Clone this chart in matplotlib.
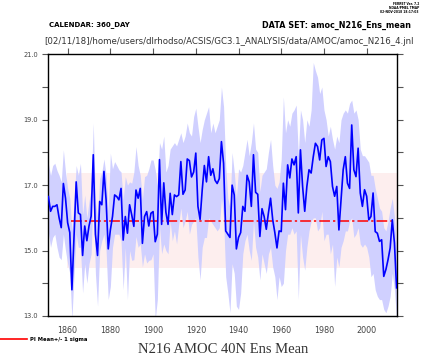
import numpy as np
import matplotlib
matplotlib.use('Agg')
import matplotlib.pyplot as plt
from matplotlib.lines import Line2D

# annual ensemble mean AMOC at 40N (Sv), 1851-2014
years = np.arange(1851, 2015)

amoc_mean = [
    16.65, 16.20, 16.35, 16.35, 16.40, 16.00, 15.70, 17.05, 16.60, 15.85,
    15.55, 13.80, 15.45, 17.10, 16.15, 16.10, 14.85, 15.75, 15.30, 15.75,
    16.05, 17.93, 15.50, 14.85, 16.50, 16.40, 17.42, 16.55, 15.05,
    15.63, 16.04, 16.70, 16.65, 16.55, 16.90, 15.32, 16.04, 15.53, 16.40,
    16.09, 15.74, 16.85, 16.60, 16.90, 15.22, 16.04, 16.19, 15.75, 16.14,
    16.19, 15.27, 15.50, 17.78, 15.80, 17.07, 16.17,
    15.80, 16.75, 16.10, 16.70, 16.65, 16.70, 17.72, 16.72, 16.85, 17.80,
    17.75, 17.25, 17.40, 17.98, 16.35, 15.95, 16.85, 17.60, 17.10, 17.87,
    17.30, 17.50, 17.15, 17.05, 17.20, 18.33, 17.67,
    15.60, 15.50, 15.40, 17.00, 16.70, 15.05, 15.40, 15.55, 16.35, 16.20,
    17.30, 17.10, 16.35, 17.93, 16.78, 16.72, 15.43, 16.28, 16.04, 15.65,
    16.15, 16.60, 15.95, 15.55, 15.08, 15.60, 15.58,
    17.06, 16.25, 17.62, 17.22, 17.80, 17.62, 17.87, 16.15, 18.08, 16.96,
    16.20, 16.96, 17.47, 17.37, 17.87, 18.28, 18.18, 17.77, 18.38, 18.43,
    17.57, 17.87, 17.72, 16.96, 16.66, 16.96, 15.63, 16.55, 17.47, 17.87,
    17.06, 16.90, 18.84, 17.47, 17.26, 18.13, 16.76, 16.35, 16.86, 16.66,
    15.94, 16.04, 16.76, 15.58, 15.53, 15.28, 15.33, 14.21, 14.42, 14.72,
    15.08, 15.94, 15.23, 13.86,
]

# ensemble spread (upper / lower edge of the shading)
ens_upper = [
    17.65, 17.30, 17.60, 17.67, 17.45, 17.30, 17.10, 18.08, 17.40, 16.90,
    16.60, 15.60, 16.50, 17.60, 17.30, 17.67, 16.10, 16.70, 16.00, 16.50,
    16.90, 18.90, 16.50, 16.00, 17.20, 17.40, 17.80, 17.30, 16.20,
    17.98, 17.50, 17.72, 17.60, 17.47, 17.40, 16.55, 17.26, 17.00, 17.10,
    17.06, 17.40, 18.18, 17.60, 17.30, 16.55, 17.26, 17.30, 17.50, 17.77,
    17.77, 17.47, 17.00, 18.30, 18.10, 18.50, 17.40,
    17.60, 18.10, 18.20, 18.30, 18.20, 18.40, 18.60, 18.30, 18.50, 18.90,
    18.60, 18.50, 19.10, 19.35, 18.80, 18.30, 18.70, 19.00, 19.20, 19.40,
    18.60, 18.90, 18.60, 18.80, 19.00, 20.00, 19.40,
    17.60, 16.60, 16.30, 18.00, 17.40, 16.60, 17.50, 17.40, 17.60, 18.00,
    18.40, 17.90, 18.30, 18.90, 18.10, 18.00, 16.80, 17.30, 17.40, 17.50,
    18.00, 18.40, 17.60, 17.00, 16.90, 17.10, 17.80,
    19.70, 18.60, 19.00, 18.80, 19.20, 19.30, 19.45, 17.90, 19.30, 19.00,
    18.30, 19.00, 18.80, 19.30, 20.75, 20.50, 20.30, 19.80, 20.00, 19.30,
    19.00, 18.50, 18.80, 18.40, 18.10, 18.50, 18.30, 19.00, 19.20, 19.30,
    19.20, 19.50, 19.60, 19.20, 19.30, 19.00, 18.10, 17.90, 17.90, 17.80,
    17.70, 17.30, 17.30, 16.90, 16.60, 16.30, 16.20, 15.70, 15.60, 15.90,
    16.30, 16.60, 16.00, 15.00,
]

ens_lower = [
    15.55, 15.10, 15.40, 15.50, 15.10, 14.80, 14.72, 15.50, 15.00, 14.60,
    14.30, 12.90, 14.30, 15.50, 15.10, 15.10, 13.70, 14.60, 14.00, 14.60,
    14.90, 16.90, 14.30, 13.30, 15.00, 15.30, 15.50, 15.00, 13.50,
    13.90, 15.10, 15.50, 15.50, 15.50, 15.30, 13.80, 15.10, 13.50, 15.00,
    14.70, 14.72, 15.43, 15.10, 15.20, 14.50, 14.90, 14.62, 14.70, 14.72,
    14.90, 12.90, 13.50, 15.74, 14.90, 15.20, 15.00,
    14.90, 15.90, 15.30, 15.60, 15.20, 15.80, 16.30, 15.70, 15.90, 16.20,
    15.50, 15.80, 15.90, 16.00, 14.80, 14.10, 15.10, 15.40, 15.40, 16.00,
    15.90, 15.80, 15.70, 15.60, 15.70, 16.60, 16.00,
    14.20, 13.70, 13.10, 14.60, 14.30, 13.30, 13.20, 13.70, 14.90, 15.30,
    15.50, 15.00, 14.70, 15.90, 15.10, 14.80, 14.10, 14.90, 14.60, 14.30,
    14.90, 15.10, 14.50, 14.20, 13.50, 14.20, 13.90,
    14.00, 15.00, 15.50, 15.50, 15.70, 15.50, 15.60, 13.50, 15.50, 14.80,
    14.40, 15.10, 15.60, 15.90, 16.00, 16.00, 15.60, 15.70, 16.20, 15.30,
    15.50, 15.50, 14.90, 15.20, 13.90, 14.80, 14.50, 15.10, 15.30, 15.60,
    15.60, 15.90, 16.00, 15.40, 15.50, 15.70, 15.20, 15.10, 15.20, 15.10,
    14.80, 14.20, 14.30, 13.80, 13.60, 13.50, 13.50, 13.20, 13.10, 13.30,
    13.60, 14.30, 13.80, 12.90,
]

# pre-industrial control mean +/- 1 sigma
pi_mean = 15.91
pi_sigma = 1.45
pi_start = 1861.6
pi_end = 2013.4
band_start = 1859.5

x_ticks = [1860, 1880, 1900, 1920, 1940, 1960, 1980, 2000]
y_ticks = [13, 14, 15, 16, 17, 18, 19, 20, 21]
x_lim = (1850.8, 2014.2)

fig = plt.figure(figsize=(4.21, 3.55), dpi=100)
ax = fig.add_axes([0.114, 0.110, 0.829, 0.737])

ax.fill_between([band_start, x_lim[1]], pi_mean - pi_sigma, pi_mean + pi_sigma,
                color='#fdeeee', lw=0, zorder=1)
ax.fill_between(years, ens_lower, ens_upper, color='#d0d0ff', lw=0, zorder=2)
ax.plot([pi_start, pi_end], [pi_mean, pi_mean], color='red', lw=1.1,
        ls=(0, (7, 2, 1.5, 2)), zorder=3)
ax.plot(years, amoc_mean, color='blue', lw=1.2, zorder=4)

ax.set_xlim(x_lim)
ax.set_ylim(13, 21)

ax.set_xticks(x_ticks)
ax.set_xticklabels([str(t) for t in x_ticks], fontsize=5.8, color='#444444')
ax.tick_params(axis='x', which='both', bottom=False, top=True, labeltop=False,
               direction='out', length=4, width=0.8, color='#555555', pad=3.5)

ax.set_yticks(y_ticks)
ax.set_yticklabels(['%.1f' % t if t % 2 == 1 else '' for t in y_ticks],
                   fontsize=4.8, color='#444444')
ax.tick_params(axis='y', which='both', left=True, right=True, direction='out',
               length=4, width=0.8, color='#555555', pad=3)

for s in ax.spines.values():
    s.set_linewidth(1.0)

# header text
fig.text(49 / 421, 1 - 25 / 355, 'CALENDAR: 360_DAY', fontsize=5.0,
         fontweight='bold', va='center', ha='left')
fig.text(411 / 421, 1 - 25 / 355, 'DATA SET: amoc_N216_Ens_mean', fontsize=5.8,
         fontweight='bold', va='center', ha='right')
fig.text(44 / 421, 1 - 41 / 355,
         '[02/11/18]/home/users/dlrhodso/ACSIS/GC3.1_ANALYSIS/data/AMOC/amoc_N216_4.jnl',
         fontsize=6.2, color='#333333', va='center', ha='left')
fig.text(419 / 421, 1 - 2 / 355, 'FERRET Ver. 7.2\nNOAA/PMEL TMAP\n02-NOV-2018 18:17:03',
         fontsize=2.2, fontweight='bold', va='top', ha='right', linespacing=1.0)

# legend entry
fig.add_artist(Line2D([0, 27 / 421], [1 - 339 / 355, 1 - 339 / 355],
                      color='red', lw=1.2))
fig.text(30 / 421, 1 - 339 / 355, 'PI Mean+/- 1 sigma', fontsize=3.8,
         fontweight='bold', va='center', ha='left')

fig.text(223 / 421, 1 - 353 / 355, 'N216 AMOC 40N Ens Mean', fontsize=10.5,
         family='Liberation Serif', va='baseline', ha='center', color='#333333')

fig.savefig('out.png', dpi=100)
